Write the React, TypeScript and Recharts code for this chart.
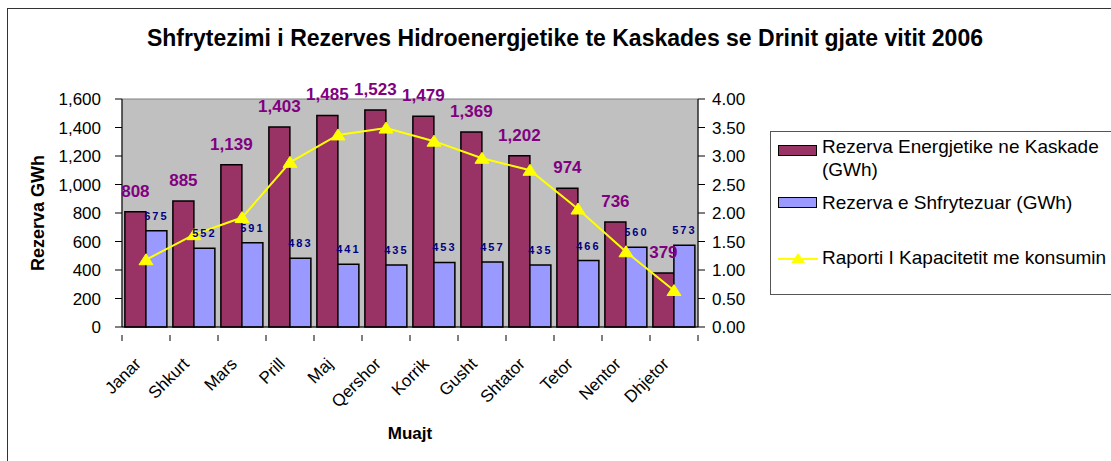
import {
  ComposedChart,
  Bar,
  Line,
  XAxis,
  YAxis,
  LabelList,
  ReferenceArea,
} from "recharts";

const months = [
  "Janar",
  "Shkurt",
  "Mars",
  "Prill",
  "Maj",
  "Qershor",
  "Korrik",
  "Gusht",
  "Shtator",
  "Tetor",
  "Nentor",
  "Dhjetor",
];
const reserveTotal = [808, 885, 1139, 1403, 1485, 1523, 1479, 1369, 1202, 974, 736, 379];
const reserveUsed = [675, 552, 591, 483, 441, 435, 453, 457, 435, 466, 560, 573];
const capacityRatio = [1.18, 1.62, 1.92, 2.89, 3.37, 3.49, 3.26, 2.96, 2.75, 2.07, 1.32, 0.64];

const leftTicks = [0, 200, 400, 600, 800, 1000, 1200, 1400, 1600];
const rightTicks = [0, 0.5, 1, 1.5, 2, 2.5, 3, 3.5, 4];

const TITLE = "Shfrytezimi i Rezerves Hidroenergjetike te Kaskades se Drinit gjate vitit 2006";
const NAME_TOTAL = "Rezerva Energjetike ne Kaskade (GWh)";
const NAME_USED = "Rezerva e Shfrytezuar (GWh)";
const NAME_RATIO = "Raporti I Kapacitetit me konsumin";

const data = months.map((m, i) => ({
  month: m,
  total: reserveTotal[i],
  used: reserveUsed[i],
  ratio: capacityRatio[i],
}));

const FONT = "Arial, 'Liberation Sans', sans-serif";
const MAROON = "#993366";
const PERIWINKLE = "#9999FF";
const YELLOW = "#FFFF00";

// plot box (Excel layout)
const PLOT_LEFT = 122;
const PLOT_RIGHT = 698;
const BAND = (PLOT_RIGHT - PLOT_LEFT) / months.length;

const MonthTick = (props: any) => {
  const { x, y, payload, index } = props;
  const tx = x - 4;
  const ty = y + 30;
  return (
    <g>
      <line x1={x - BAND / 2} y1={y} x2={x - BAND / 2} y2={y + 6} stroke="#000" />
      {index === months.length - 1 && (
        <line x1={x + BAND / 2} y1={y} x2={x + BAND / 2} y2={y + 6} stroke="#000" />
      )}
      <text
        x={tx}
        y={ty}
        textAnchor="end"
        transform={`rotate(-45 ${tx} ${ty})`}
        fontSize={17}
        fontFamily={FONT}
        fill="#000"
      >
        {payload.value}
      </text>
    </g>
  );
};

const Triangle = (props: any) => {
  const { cx, cy } = props;
  if (cx == null || cy == null) return null;
  return (
    <path
      d={`M${cx},${cy - 6} L${cx + 7},${cy + 5} L${cx - 7},${cy + 5} Z`}
      fill={YELLOW}
      stroke={YELLOW}
    />
  );
};

const TotalLabel = (props: any) => {
  const { x, y, width, value } = props;
  return (
    <text
      x={x + width / 2}
      y={y - 15}
      textAnchor="middle"
      fontSize={17}
      fontWeight="bold"
      fontFamily={FONT}
      fill="#800080"
    >
      {Number(value).toLocaleString("en-US")}
    </text>
  );
};

const UsedLabel = (props: any) => {
  const { x, y, width, value } = props;
  return (
    <text
      x={x + width / 2}
      y={y - 11}
      textAnchor="middle"
      fontSize={11}
      fontWeight="bold"
      letterSpacing={2}
      fontFamily={FONT}
      fill="#000080"
    >
      {value}
    </text>
  );
};

const LegendBox = () => (
  <div
    style={{
      position: "absolute",
      left: 770,
      top: 131,
      width: 345,
      height: 164,
      border: "1px solid #555",
      borderRight: "none",
      boxSizing: "border-box",
      fontFamily: FONT,
      fontSize: 19,
      color: "#000",
      background: "#fff",
      whiteSpace: "nowrap",
    }}
  >
    <span
      style={{
        position: "absolute",
        left: 7,
        top: 13,
        width: 37,
        height: 9,
        background: MAROON,
        border: "1px solid #000",
      }}
    />
    <div style={{ position: "absolute", left: 51, top: 3, lineHeight: "23px" }}>
      Rezerva Energjetike ne Kaskade
      <br />
      (GWh)
    </div>
    <span
      style={{
        position: "absolute",
        left: 7,
        top: 65,
        width: 37,
        height: 9,
        background: PERIWINKLE,
        border: "1px solid #000",
      }}
    />
    <div style={{ position: "absolute", left: 51, top: 59, lineHeight: "23px" }}>
      {NAME_USED}
    </div>
    <svg style={{ position: "absolute", left: 7, top: 118 }} width={40} height={16}>
      <line x1={0} y1={9} x2={40} y2={9} stroke={YELLOW} strokeWidth={2} />
      <path d="M20,3 L27,13 L13,13 Z" fill={YELLOW} />
    </svg>
    <div style={{ position: "absolute", left: 51, top: 114, lineHeight: "23px" }}>
      {NAME_RATIO}
    </div>
  </div>
);

export default function App() {
  return (
    <div
      style={{
        position: "absolute",
        left: 0,
        top: 0,
        width: 1111,
        height: 461,
        background: "#fff",
        overflow: "hidden",
      }}
    >
      <div
        style={{
          position: "absolute",
          left: 7,
          top: 8,
          width: 1111,
          height: 461,
          borderTop: "1.5px solid #333",
          borderLeft: "1.5px solid #333",
        }}
      />
      <div
        style={{
          position: "absolute",
          left: 0,
          top: 25,
          width: 1130,
          textAlign: "center",
          fontFamily: FONT,
          fontWeight: "bold",
          fontSize: 23,
        }}
      >
        {TITLE}
      </div>
      <div style={{ position: "absolute", left: 0, top: 0 }}>
        <ComposedChart
          width={1111}
          height={461}
          data={data}
          margin={{ top: 99, right: 353, bottom: 0, left: 0 }}
          barCategoryGap="6%"
          barGap={0}
        >
          <ReferenceArea
            yAxisId="left"
            y1={0}
            y2={1600}
            fill="#C0C0C0"
            fillOpacity={1}
            stroke="#808080"
            strokeWidth={1}
          />
          <XAxis
            dataKey="month"
            height={134}
            interval={0}
            tick={<MonthTick />}
            tickLine={false}
            axisLine={{ stroke: "#000" }}
            label={{
              value: "Muajt",
              position: "insideBottom",
              offset: 22,
              style: { fontFamily: FONT, fontWeight: "bold", fontSize: 17, fill: "#000" },
            }}
          />
          <YAxis
            yAxisId="left"
            width={122}
            domain={[0, 1600]}
            ticks={leftTicks}
            interval={0}
            tickFormatter={(v: number) => v.toLocaleString("en-US")}
            tick={{ fontFamily: FONT, fontSize: 17, fill: "#000" }}
            tickSize={7}
            tickMargin={14}
            tickLine={{ stroke: "#000" }}
            axisLine={{ stroke: "#000" }}
            label={{
              value: "Rezerva GWh",
              angle: -90,
              position: "insideLeft",
              offset: 38,
              style: {
                fontFamily: FONT,
                fontWeight: "bold",
                fontSize: 18,
                fill: "#000",
                textAnchor: "middle",
              },
            }}
          />
          <YAxis
            yAxisId="right"
            orientation="right"
            width={60}
            domain={[0, 4]}
            ticks={rightTicks}
            interval={0}
            tickFormatter={(v: number) => v.toFixed(2)}
            tick={{ fontFamily: FONT, fontSize: 17, fill: "#000" }}
            tickSize={7}
            tickMargin={7}
            tickLine={{ stroke: "#000" }}
            axisLine={{ stroke: "#000" }}
          />
          <Bar
            yAxisId="left"
            dataKey="total"
            name={NAME_TOTAL}
            fill={MAROON}
            stroke="#000"
            strokeWidth={1.5}
            isAnimationActive={false}
          >
            <LabelList dataKey="total" content={<TotalLabel />} />
          </Bar>
          <Bar
            yAxisId="left"
            dataKey="used"
            name={NAME_USED}
            fill={PERIWINKLE}
            stroke="#000"
            strokeWidth={1.5}
            isAnimationActive={false}
          >
            <LabelList dataKey="used" content={<UsedLabel />} />
          </Bar>
          <Line
            yAxisId="right"
            dataKey="ratio"
            name={NAME_RATIO}
            stroke={YELLOW}
            strokeWidth={2}
            dot={<Triangle />}
            activeDot={false}
            isAnimationActive={false}
          />
        </ComposedChart>
      </div>
      <LegendBox />
    </div>
  );
}
